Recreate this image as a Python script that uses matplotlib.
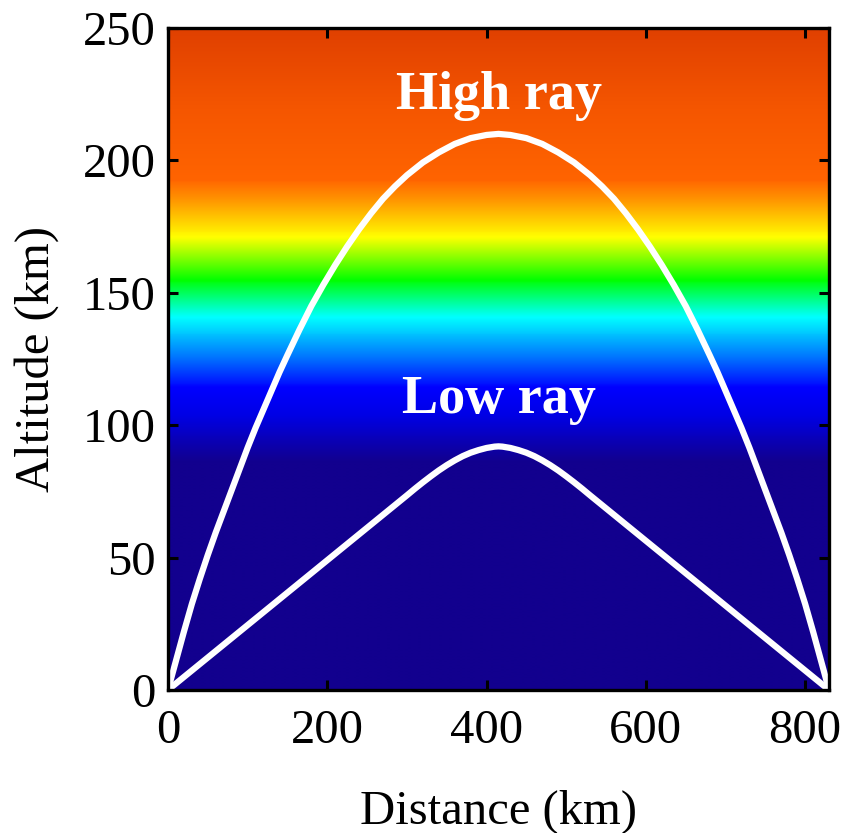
import matplotlib
matplotlib.use('Agg')
import matplotlib.pyplot as plt
import numpy as np
from matplotlib.colors import LinearSegmentedColormap

# background colour stops (altitude km, colour)
bg_alt = [0, 86, 104, 114, 126, 141, 155, 171, 179, 186, 193, 220, 250]
bg_col = ['#12008e', '#12008e', '#0000e6', '#0000ff', '#0078ff', '#00ffff',
          '#00ff00', '#ffff00', '#ffc400', '#ff9000', '#ff6400', '#f55600', '#e04000']

# high ray, left half (km, km)
high_x = [0, 10, 20, 30, 40, 50, 60, 70, 80, 90, 100, 110, 120, 130, 140, 150,
          165, 180, 195, 210, 225, 240, 255, 270, 285, 300, 320, 340, 360, 380, 400, 415]
high_y = [0, 11, 22, 32.5, 42, 51, 59.5, 67.5, 75.5, 83.5, 91.5, 99, 106, 113, 120, 126.5,
          136, 145, 153, 160.5, 167.5, 174, 180, 185.5, 190.2, 194.4, 199.2, 203.0, 206.2,
          208.4, 209.6, 210]

# low ray, left half
low_x = [0, 100, 200, 300, 310, 320, 330, 340, 350, 360, 370, 380, 390, 400, 410, 415]
low_y = [0, 24.5, 49, 73.5, 76.0, 78.4, 80.7, 82.9, 84.9, 86.7, 88.3, 89.6, 90.6, 91.4, 91.9, 92.0]

x_end = 830


def mirror(xs, ys):
    xs = list(xs) + [x_end - v for v in reversed(xs[:-1])]
    ys = list(ys) + list(reversed(ys[:-1]))
    return xs, ys


plt.rcParams['font.family'] = ['Liberation Serif', 'DejaVu Serif']

fig = plt.figure(figsize=(8.42, 8.33), dpi=100)
ax = fig.add_axes([0.1995, 0.1717, 0.7851, 0.7947])

cmap = LinearSegmentedColormap.from_list(
    'iono', [(a / 250.0, c) for a, c in zip(bg_alt, bg_col)], N=512)
grad = np.linspace(0, 250, 500).reshape(-1, 1)
ax.imshow(grad, cmap=cmap, origin='lower', aspect='auto',
          extent=[0, x_end, 0, 250], vmin=0, vmax=250, interpolation='bilinear')

hx, hy = mirror(high_x, high_y)
lx, ly = mirror(low_x, low_y)
ax.plot(hx, hy, color='white', lw=4.5, solid_capstyle='round', solid_joinstyle='round')
ax.plot(lx, ly, color='white', lw=4.5, solid_capstyle='round', solid_joinstyle='round')

ax.text(415, 224.5, 'High ray', color='white', fontsize=39, fontweight='bold',
        ha='center', va='center')
ax.text(415, 109.5, 'Low ray', color='white', fontsize=39, fontweight='bold',
        ha='center', va='center')

ax.set_xlim(0, x_end)
ax.set_ylim(0, 250)
ax.set_xticks([0, 200, 400, 600, 800])
ax.set_yticks([0, 50, 100, 150, 200, 250])
ax.tick_params(direction='in', length=7, width=2.2, labelsize=35,
               top=True, right=True)
ax.tick_params(axis='x', pad=14)
ax.tick_params(axis='y', pad=9)
for s in ax.spines.values():
    s.set_linewidth(2.4)

ax.set_xlabel('Distance (km)', fontsize=35, labelpad=26)
ax.set_ylabel('Altitude (km)', fontsize=35, labelpad=17)

fig.savefig('out.png', dpi=100)
